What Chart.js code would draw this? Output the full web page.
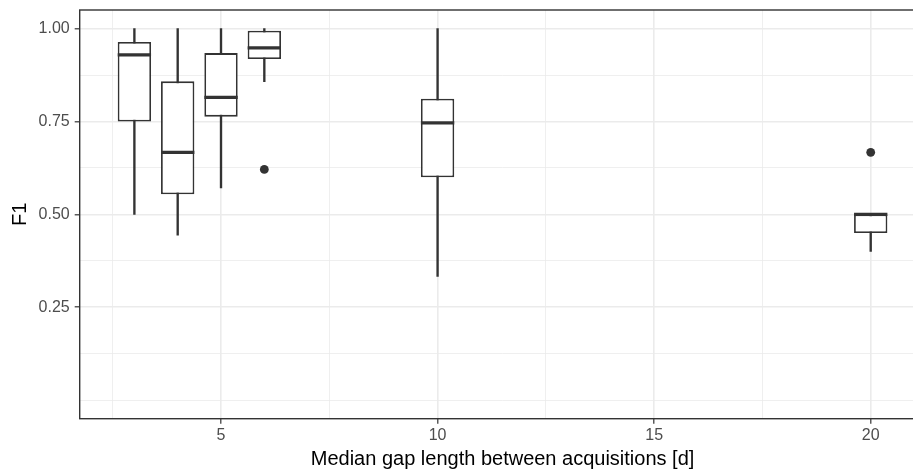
<!DOCTYPE html>
<html>
<head>
<meta charset="utf-8">
<script src="https://cdn.jsdelivr.net/npm/chart.js@4.4.0/dist/chart.umd.min.js"></script>
<style>
html, body { margin: 0; padding: 0; background: #fff; overflow: hidden; }
#wrap { position: relative; width: 930px; height: 470px; }
</style>
</head>
<body>
<div id="wrap"><canvas id="gapChart"></canvas></div>
<script>
// Box statistics per median gap length (days)
const gapDays = [3, 4, 5, 6, 10, 20];
const whiskerLow = [0.50, 0.444, 0.571, 0.857, 0.333, 0.40];
const q1 = [0.75, 0.554, 0.763, 0.918, 0.60, 0.45];
const medians = [0.929, 0.667, 0.815, 0.948, 0.746, 0.50];
const q3 = [0.964, 0.858, 0.934, 0.994, 0.811, 0.50];
const whiskerHigh = [1.0, 1.0, 1.0, 1.0, 1.0, 0.50];

// Outliers
const outlierX = [6, 20];
const outlierY = [0.621, 0.667];

// Axis breaks (major labelled, minor only as grid)
const xMajor = [5, 10, 15, 20];
const xGrid = [2.5, 5, 7.5, 10, 12.5, 15, 17.5, 20];
const yMajor = [0.25, 0.5, 0.75, 1.0];
const yGrid = [0, 0.125, 0.25, 0.375, 0.5, 0.625, 0.75, 0.875, 1.0];

const lineColor = '#333333';
const gridColor = '#ebebeb';
const tickTextColor = '#4d4d4d';
const fontFamily = '"Liberation Sans", Arial, Helvetica, sans-serif';

const isMajor = (list, v) => list.some(m => Math.abs(m - v) < 1e-9);

// medians + panel border
const boxExtras = {
    id: 'boxExtras',
    afterDatasetsDraw(chart) {
        const ctx = chart.ctx;
        const yScale = chart.scales.y;
        const boxes = chart.getDatasetMeta(1).data;
        ctx.save();
        ctx.strokeStyle = lineColor;
        ctx.lineWidth = 3.2;
        boxes.forEach((bar, i) => {
            const py = yScale.getPixelForValue(medians[i]);
            ctx.beginPath();
            ctx.moveTo(bar.x - bar.width / 2, py);
            ctx.lineTo(bar.x + bar.width / 2, py);
            ctx.stroke();
        });
        ctx.restore();
    },
    afterDraw(chart) {
        const a = chart.chartArea;
        const ctx = chart.ctx;
        ctx.save();
        ctx.strokeStyle = lineColor;
        ctx.lineWidth = 1.4;
        ctx.strokeRect(a.left, a.top, a.right - a.left, a.bottom - a.top);
        ctx.restore();
    }
};

new Chart(document.getElementById('gapChart'), {
    type: 'bar',
    data: {
        datasets: [
            {
                label: 'whisker',
                data: gapDays.map((d, i) => ({ x: d, y: [whiskerLow[i], whiskerHigh[i]] })),
                backgroundColor: lineColor,
                borderWidth: 0,
                barThickness: 1.7,
                grouped: false,
                order: 3
            },
            {
                label: 'box',
                data: gapDays.map((d, i) => ({ x: d, y: [q1[i], q3[i]] })),
                backgroundColor: '#ffffff',
                borderColor: lineColor,
                borderWidth: 1.8,
                borderSkipped: false,
                grouped: false,
                categoryPercentage: 1,
                barPercentage: 0.77,
                order: 2
            },
            {
                type: 'scatter',
                label: 'outlier',
                data: outlierX.map((x, i) => ({ x: x, y: outlierY[i] })),
                backgroundColor: lineColor,
                borderWidth: 0,
                pointRadius: 4.4,
                order: 1
            }
        ]
    },
    options: {
        responsive: true,
        maintainAspectRatio: false,
        animation: false,
        layout: { padding: { left: 0, top: 10, right: 4.6, bottom: 0 } },
        plugins: { legend: { display: false }, tooltip: { enabled: false } },
        scales: {
            x: {
                type: 'linear',
                min: 1.7375,
                max: 21.2625,
                offset: false,
                afterBuildTicks: (scale) => { scale.ticks = xGrid.map(v => ({ value: v })); },
                afterFit: (scale) => {
                    scale.height = 51.3;
                    scale.paddingLeft = 0;
                    scale.paddingRight = 0;
                },
                border: { display: false },
                grid: {
                    offset: false,
                    color: gridColor,
                    lineWidth: (c) => (c.tick && isMajor(xMajor, c.tick.value)) ? 1.6 : 0.8,
                    tickColor: (c) => (c.tick && isMajor(xMajor, c.tick.value)) ? lineColor : 'rgba(0,0,0,0)',
                    tickLength: 5,
                    tickWidth: 1.2
                },
                ticks: {
                    autoSkip: false,
                    maxRotation: 0,
                    padding: 2,
                    color: tickTextColor,
                    font: { family: fontFamily, size: 16 },
                    callback: (v) => isMajor(xMajor, v) ? String(v) : ''
                },
                title: {
                    display: true,
                    text: 'Median gap length between acquisitions [d]',
                    color: '#000000',
                    font: { family: fontFamily, size: 20, lineHeight: 1 },
                    padding: { top: 0, bottom: 1 }
                }
            },
            y: {
                min: -0.05,
                max: 1.05,
                beginAtZero: false,
                afterBuildTicks: (scale) => { scale.ticks = yGrid.map(v => ({ value: v })); },
                afterFit: (scale) => {
                    scale.width = 79.7;
                    scale.paddingTop = 0;
                    scale.paddingBottom = 0;
                },
                border: { display: false },
                grid: {
                    color: gridColor,
                    lineWidth: (c) => (c.tick && isMajor(yMajor, c.tick.value)) ? 1.6 : 0.8,
                    tickColor: (c) => (c.tick && isMajor(yMajor, c.tick.value)) ? lineColor : 'rgba(0,0,0,0)',
                    tickLength: 5,
                    tickWidth: 1.2
                },
                ticks: {
                    autoSkip: false,
                    padding: 5,
                    color: tickTextColor,
                    font: { family: fontFamily, size: 16 },
                    callback: (v) => isMajor(yMajor, v) ? v.toFixed(2) : ''
                },
                title: {
                    display: true,
                    text: 'F1',
                    color: '#000000',
                    font: { family: fontFamily, size: 20, lineHeight: 1 },
                    padding: { top: 10, bottom: 0 }
                }
            }
        }
    },
    plugins: [boxExtras]
});
</script>
</body>
</html>
